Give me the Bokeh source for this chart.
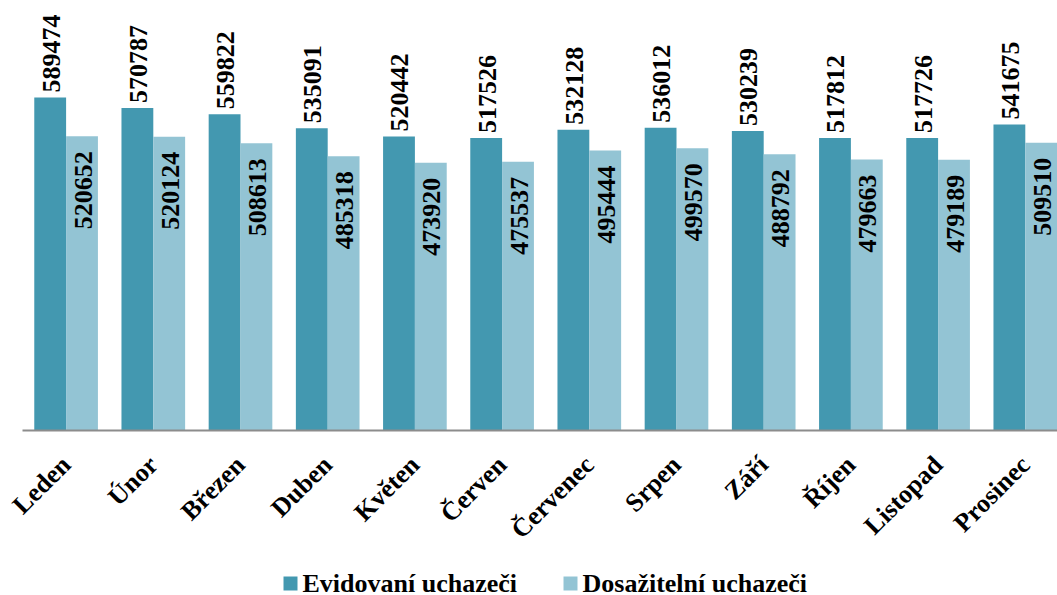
import math
from bokeh.plotting import figure
from bokeh.models import Range1d, FixedTicker, ColumnDataSource
from bokeh.core.properties import value
from bokeh.embed import file_html
from bokeh.resources import INLINE

months = ["Leden", "Únor", "Březen", "Duben", "Květen", "Červen", "Červenec",
          "Srpen", "Září", "Říjen", "Listopad", "Prosinec"]
evidovani = [589474, 570787, 559822, 535091, 520442, 517526, 532128,
             536012, 530239, 517812, 517726, 541675]
dosazitelni = [520652, 520124, 508613, 485318, 473920, 475537, 495444,
               499570, 488792, 479663, 479189, 509510]
series_names = ["Evidovaní uchazeči", "Dosažitelní uchazeči"]
colors = ["#4398B0", "#93C4D4"]

FONT = "Liberation Serif"
bw = 0.365
off = bw / 2
PX = 1770     # value units per pixel
CAT = 87.2    # pixels per category

xc = [i + 0.5 for i in range(len(months))]
src = ColumnDataSource(dict(
    x1=[x - off for x in xc], x2=[x + off for x in xc],
    e=evidovani, d=dosazitelni,
    et=[str(v) for v in evidovani], dt=[str(v) for v in dosazitelni],
))

x0 = -22 / CAT
x1 = x0 + 1057 / CAT
p = figure(frame_width=1057, frame_height=587, output_backend="svg", toolbar_location=None,
           x_range=Range1d(x0, x1), y_range=Range1d(-165 * PX, 422 * PX),
           min_border_left=0, min_border_right=0, min_border_top=8,
           min_border_bottom=0, outline_line_color=None)
p.xgrid.visible = False
p.ygrid.visible = False
p.yaxis.visible = False

r1 = p.vbar(x="x1", top="e", width=bw, bottom=0, source=src,
            fill_color=colors[0], line_color=None)
r2 = p.vbar(x="x2", top="d", width=bw, bottom=0, source=src,
            fill_color=colors[1], line_color=None)

p.text(x="x1", y="e", text="et", source=src, angle=math.pi / 2,
       text_align="left", text_baseline="middle", y_offset=-5, x_offset=1,
       text_font=value(FONT), text_font_style="bold", text_font_size="26px",
       text_color="black")
p.text(x="x2", y="d", text="dt", source=src, angle=math.pi / 2,
       text_align="right", text_baseline="middle", y_offset=15, x_offset=1,
       text_font=value(FONT), text_font_style="bold", text_font_size="26px",
       text_color="black")

ax = p.xaxis[0]
ax.fixed_location = 0
ax.bounds = (0, x1)
ax.ticker = FixedTicker(ticks=xc)
ax.major_label_overrides = {x: m for x, m in zip(xc, months)}
ax.major_label_orientation = math.pi / 4
ax.major_label_text_font = FONT
ax.major_label_text_font_style = "bold"
ax.major_label_text_font_size = "26px"
ax.major_label_text_color = "black"
ax.major_label_standoff = 24
ax.major_tick_line_color = None
ax.minor_tick_line_color = None
ax.axis_line_color = "#8C8C8C"
ax.axis_line_width = 2

# legend (swatch + label), placed below the month labels
leg_px_x = [290, 570]        # swatch centres, px from left
leg_px_y = 583               # row centre, px from top
leg_src = ColumnDataSource(dict(
    sx=[x0 + v / CAT for v in leg_px_x],
    tx=[x0 + (v + 12) / CAT for v in leg_px_x],
    y=[-(leg_px_y - 430) * PX] * 2,
    color=colors,
    label=series_names,
))
p.scatter(x="sx", y="y", source=leg_src, marker="square", size=14,
          fill_color="color", line_color=None)
p.text(x="tx", y="y", text="label", source=leg_src,
       text_align="left", text_baseline="middle",
       text_font=value(FONT), text_font_style="bold", text_font_size="26px",
       text_color="black")

open("out.html", "w").write(file_html(p, INLINE))
